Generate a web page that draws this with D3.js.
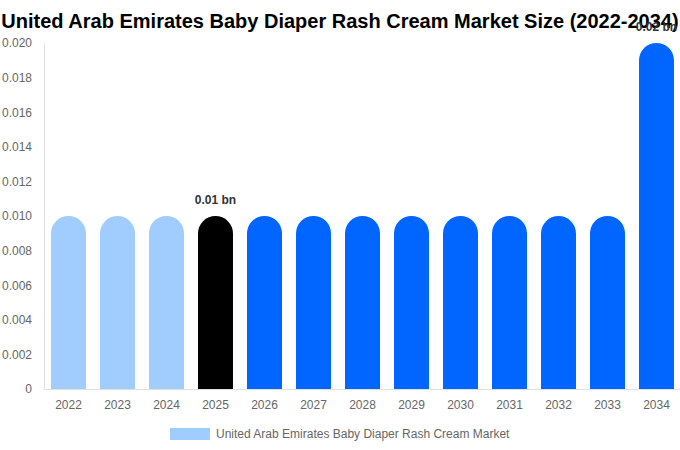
<!DOCTYPE html>
<html><head><meta charset="utf-8">
<script src="https://cdn.jsdelivr.net/npm/d3@7/dist/d3.min.js"></script>
<style>body{margin:0;background:#fff;font-family:"Liberation Sans",Arial,sans-serif}</style>
</head><body><svg id="c" width="680" height="450"></svg>
<script>
const years = ["2022","2023","2024","2025","2026","2027","2028","2029","2030","2031","2032","2033","2034"];
const values = [0.01,0.01,0.01,0.01,0.01,0.01,0.01,0.01,0.01,0.01,0.01,0.01,0.02];
const yTicks = [0,0.002,0.004,0.006,0.008,0.010,0.012,0.014,0.016,0.018,0.020];
const labelYears = ["2025","2034"];
const labels = ["0.01 bn","0.02 bn"];
const title = "United Arab Emirates Baby Diaper Rash Cream Market Size (2022-2034)";
const legendLabel = "United Arab Emirates Baby Diaper Rash Cream Market";

const svg = d3.select("#c");
const m = {l:44, r:680, t:43, b:389};
const x = d3.scaleBand().domain(years).range([m.l, 681]).paddingInner(0.286).paddingOuter(0.143);
const y = d3.scaleLinear().domain([0,0.02]).range([m.b, m.t]);
const color = (yr) => (+yr < 2025 ? "#a0cdfe" : (+yr === 2025 ? "#000000" : "#0066ff"));

svg.append("text").attr("x", 340).attr("y", 28).attr("text-anchor","middle")
  .attr("font-size", 20).attr("font-weight","bold").attr("fill","#000").text(title);

const ya = svg.append("g").attr("transform",`translate(${m.l},0)`)
  .call(d3.axisLeft(y).tickValues(yTicks).tickSize(0).tickPadding(12)
    .tickFormat(d => d === 0 ? "0" : d3.format(".3f")(d)));
ya.select(".domain").attr("stroke","#e0e0e0");
ya.selectAll("text").attr("font-size",12).attr("fill","#666").attr("font-family","Liberation Sans, Arial, sans-serif");

const xa = svg.append("g").attr("transform",`translate(0,${m.b})`)
  .call(d3.axisBottom(x).tickSize(0).tickPadding(11));
xa.select(".domain").attr("stroke","#e0e0e0");
xa.selectAll("text").attr("font-size",12).attr("fill","#666").attr("font-family","Liberation Sans, Arial, sans-serif");

const bw = x.bandwidth(), r = bw/2;
svg.append("g").selectAll("path").data(years).join("path")
  .attr("fill", d => color(d))
  .attr("d", (d,i) => {
    const x0 = x(d), yt = y(values[i]), yb = y(0);
    return `M${x0},${yb}L${x0},${yt+r}A${r},${r} 0 0 1 ${x0+bw},${yt+r}L${x0+bw},${yb}Z`;
  });

svg.append("g").selectAll("text").data(labelYears).join("text")
  .attr("x", d => x(d) + bw/2)
  .attr("y", d => y(values[years.indexOf(d)]) - 12)
  .attr("text-anchor","middle").attr("font-size",12).attr("font-weight","bold").attr("fill","#333")
  .text((d,i) => labels[i]);

const lg = svg.append("g");
lg.append("rect").attr("x",170).attr("y",428).attr("width",40).attr("height",12).attr("fill","#a0cdfe");
lg.append("text").attr("x",216).attr("y",438).attr("font-size",12).attr("fill","#666").text(legendLabel);
</script></body></html>
